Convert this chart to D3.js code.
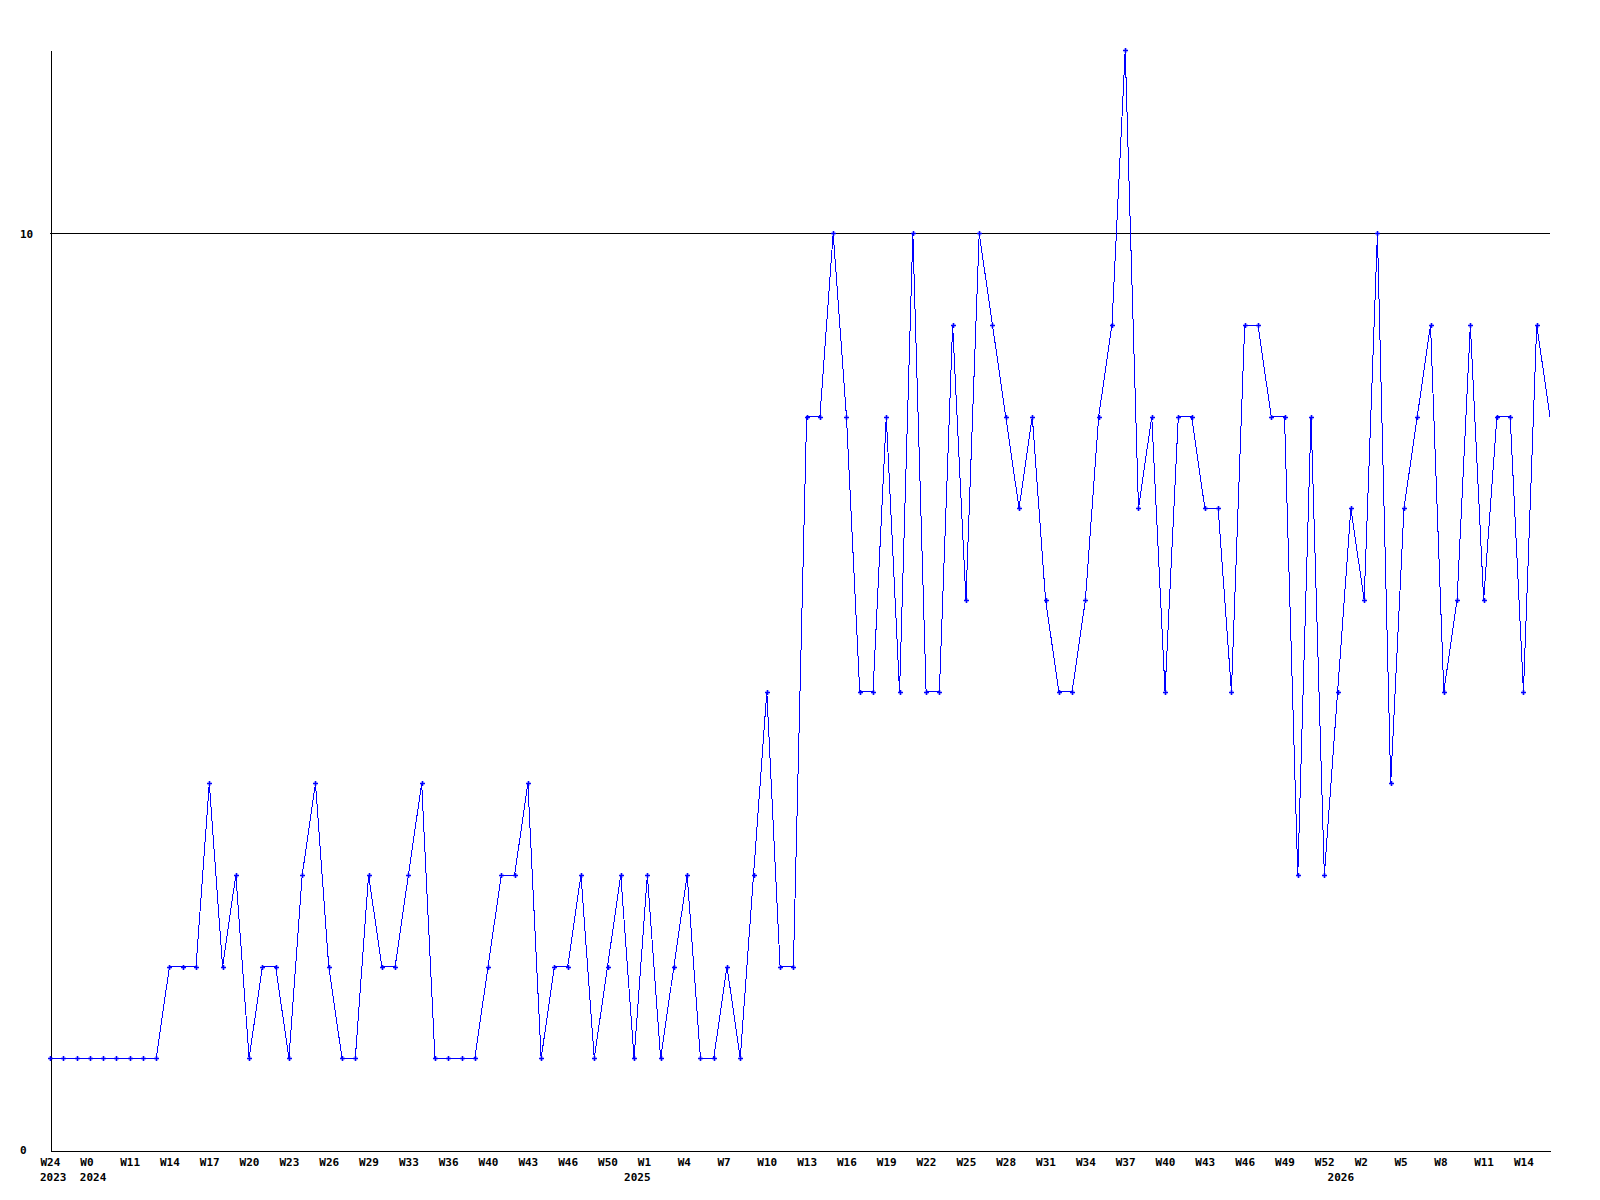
<!DOCTYPE html>
<html>
<head>
<meta charset="utf-8">
<script src="https://cdn.jsdelivr.net/npm/d3@7"></script>
<style>
  html, body { margin: 0; padding: 0; background: #fff; }
  svg { display: block; }
  text { font-family: "DejaVu Sans Mono", "Liberation Mono", monospace; font-weight: bold; font-size: 11px; fill: #000; }
</style>
</head>
<body>
<svg id="chart" width="1600" height="1200"></svg>
<script>
// ---- data ----
const values = [
  1,1,1,1,1,1,1,1,1,2,2,2,4,2,3,1,2,2,1,3,4,2,1,1,3,2,2,3,4,1,
  1,1,1,2,3,3,4,1,2,2,3,1,2,3,1,3,1,2,3,1,1,2,1,3,5,2,2,8,8,10,
  8,5,5,8,5,10,5,5,9,6,10,9,8,7,8,6,5,5,6,8,9,12,7,8,5,8,8,7,7,5,
  9,9,8,8,3,8,3,5,7,6,10,4,7,8,9,5,6,9,6,8,8,5,9,8
];
const weekLabels = [
  "W24","W0","W11","W14","W17","W20","W23","W26","W29","W33","W36","W40","W43",
  "W46","W50","W1","W4","W7","W10","W13","W16","W19","W22","W25","W28","W31",
  "W34","W37","W40","W43","W46","W49","W52","W2","W5","W8","W11","W14"
];
const weekLabelIndex = weekLabels.map((_, i) => i * 3);
const yearLabels = ["2023", "2024", "2025", "2026"];
const yearLabelIndex = [0, 3, 44, 97];
const yTicks = [0, 10];
const limitLine = [10];

// ---- layout ----
const plotLeft = 50, plotRight = 1550, plotTop = 50, plotBottom = 1150;
const svg = d3.select("#chart");

const x = d3.scaleLinear().domain([0, values.length - 1]).range([plotLeft, plotRight]);
const y = d3.scaleLinear().domain([0, 12]).range([plotBottom, plotTop]);

// limit / grid line at 10
svg.selectAll("line.limit").data(limitLine).enter().append("line")
  .attr("class", "limit")
  .attr("x1", plotLeft).attr("x2", plotRight)
  .attr("y1", d => Math.round(y(d)) + 0.5).attr("y2", d => Math.round(y(d)) + 0.5)
  .attr("stroke", "#000").attr("stroke-width", 1)
  .attr("shape-rendering", "crispEdges");

// x axis
const xAxis = d3.axisBottom(x)
  .tickValues(weekLabelIndex)
  .tickSize(0)
  .tickSizeOuter(0)
  .tickFormat((d, i) => weekLabels[i]);
const gx = svg.append("g").attr("transform", `translate(0,${plotBottom + 0.5})`).call(xAxis);
gx.select(".domain").attr("stroke", "#000").attr("shape-rendering", "crispEdges");
gx.selectAll(".tick text")
  .attr("text-anchor", "start")
  .attr("x", -10)
  .attr("y", 15.5)
  .attr("dy", 0)
  .style("font-family", "DejaVu Sans Mono")
  .style("font-size", "11px")
  .style("font-weight", "bold");

// year labels
svg.selectAll("text.year").data(yearLabels).enter().append("text")
  .attr("class", "year")
  .attr("x", (d, i) => x(yearLabelIndex[i]) - 10)
  .attr("y", plotBottom + 31)
  .text(d => d);

// y axis
const yAxis = d3.axisLeft(y).tickValues(yTicks).tickSize(0).tickSizeOuter(0).tickFormat(d3.format("d"));
const gy = svg.append("g").attr("transform", `translate(${plotLeft + 0.5},0)`).call(yAxis);
gy.select(".domain").attr("stroke", "#000").attr("shape-rendering", "crispEdges");
gy.selectAll(".tick text")
  .attr("text-anchor", "start")
  .attr("x", -30.5)
  .attr("dy", "0.35em")
  .style("font-family", "DejaVu Sans Mono")
  .style("font-size", "11px")
  .style("font-weight", "bold");

// series line
const line = d3.line().x((d, i) => x(i)).y(d => y(d));
svg.append("path")
  .datum(values)
  .attr("d", line)
  .attr("fill", "none")
  .attr("stroke", "#0000ff")
  .attr("stroke-width", 1)
  .attr("shape-rendering", "crispEdges");

// markers (last point sits on the edge, no marker)
svg.selectAll("path.marker").data(values.slice(0, values.length - 1)).enter().append("path")
  .attr("class", "marker")
  .attr("transform", (d, i) => `translate(${Math.round(x(i)) + 0.5},${Math.round(y(d)) + 0.5})`)
  .attr("d", "M-2.5,0H2.5M0,-2.5V2.5")
  .attr("stroke", "#0000ff")
  .attr("stroke-width", 1.6)
  .attr("fill", "none");
</script>
</body>
</html>
